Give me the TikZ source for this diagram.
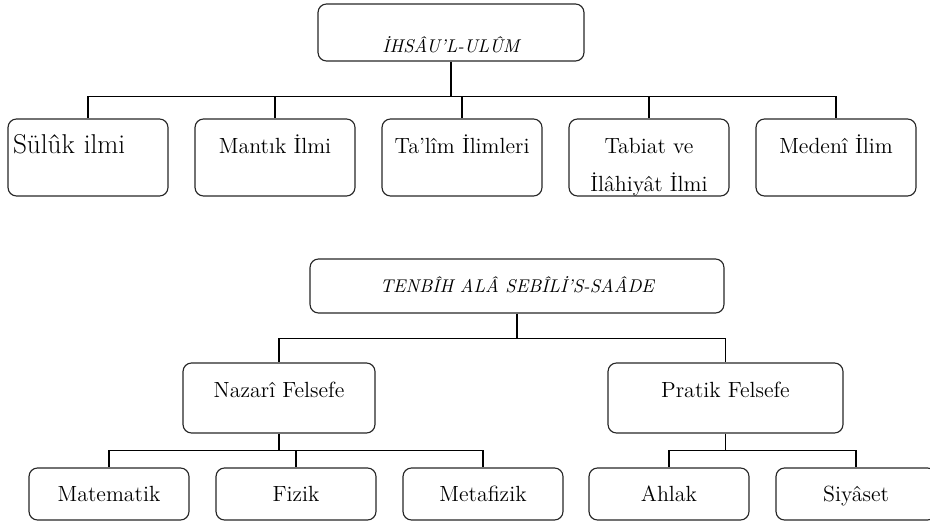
\documentclass[tikz,border=0pt]{standalone}
\usepackage{fontspec}
\tikzset{
  box/.style={draw=black!85, line width=0.65pt, rounded corners=0.17cm, inner sep=0pt,
    align=center, font=\fontsize{12.5}{20.5}\selectfont},
  leaf/.style={box, minimum width=3.2cm, minimum height=1.54cm, text height=0.29cm, text depth=0.43cm},
  branch/.style={box, minimum height=1.4cm, text height=0.29cm, text depth=0.29cm},
  twig/.style={box, minimum width=3.2cm, minimum height=1.04cm, text height=0.29cm, text depth=0pt},
  head/.style={box, font=\fontsize{10.5}{12}\selectfont\itshape},
  link/.style={line width=0.6pt},
  trunk/.style={line width=1.2pt},
}
\begin{document}
\begin{tikzpicture}[x=0.02cm, y=-0.02cm]
\useasboundingbox (0,0) rectangle (930,523);
% ihsau'l-ulum
\node[head, minimum width=5.32cm, minimum height=1.14cm, text height=0.82cm, text depth=0pt]
  (ihsa) at (451,32.5) {İHSÂU’L-ULÛM};
\node[leaf, text width=3cm, inner xsep=0.1cm, align=left, font=\fontsize{15.5}{18}\selectfont]
  (suluk) at (88,157.5) {Sülûk ilmi};
\node[leaf] (mantik) at (275,157.5) {Mantık İlmi};
\node[leaf] (talim) at (462,157.5) {Ta’lîm İlimleri};
\node[leaf, text height=1.37cm, text depth=0pt, font=\fontsize{12.5}{21.5}\selectfont]
  (tabiat) at (649,157.5) {Tabiat ve\\İlâhiyât İlmi};
\node[leaf] (medeni) at (836,157.5) {Medenî İlim};
\draw[trunk] (ihsa.south) -- ++(0,35) coordinate (j1);
\foreach \n in {suluk,mantik,talim,tabiat,medeni}
  \draw[link] (j1) -| (\n.north);
% tenbih
\node[head, minimum width=8.28cm, minimum height=1.08cm, text height=0.25cm, text depth=0pt]
  (tenbih) at (517,286) {TENBÎH ALÂ SEBÎLİ’S-SAÂDE};
\node[branch, minimum width=3.84cm] (nazari) at (279,398) {Nazarî Felsefe};
\node[branch, minimum width=4.7cm] (pratik) at (725.5,398) {Pratik Felsefe};
\draw[link] (tenbih.south) -- ++(0,25) coordinate (j2);
\foreach \n in {nazari,pratik}
  \draw[link] (j2) -| (\n.north);
\node[twig] (matematik) at (109,494) {Matematik};
\node[twig] (fizik) at (296,494) {Fizik};
\node[twig] (metafizik) at (483,494) {Metafizik};
\node[twig] (ahlak) at (669,494) {Ahlak};
\node[twig] (siyaset) at (856,494) {Siyâset};
\draw[trunk] (nazari.south) -- ++(0,17) coordinate (j3);
\foreach \n in {matematik,fizik,metafizik}
  \draw[link] (j3) -| (\n.north);
\draw[link] (pratik.south) -- ++(0,17) coordinate (j4);
\foreach \n in {ahlak,siyaset}
  \draw[link] (j4) -| (\n.north);
\end{tikzpicture}
\end{document}
